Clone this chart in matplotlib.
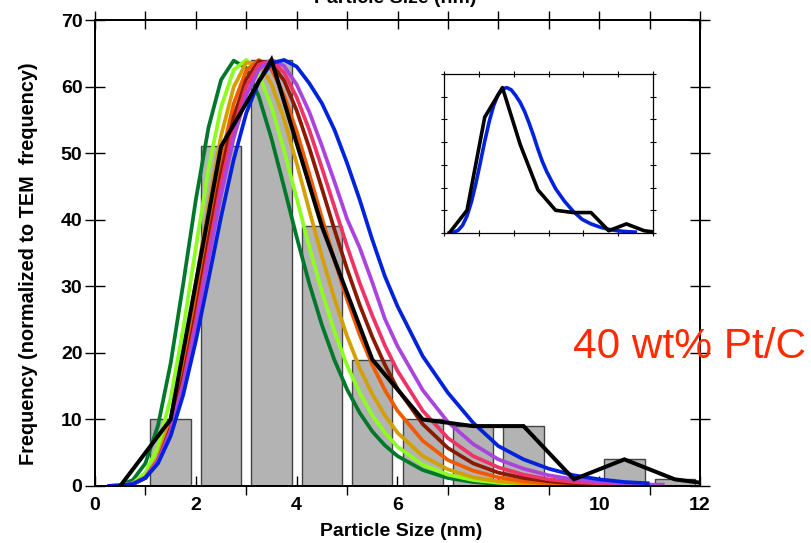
import numpy as np
import matplotlib
matplotlib.use("Agg")
import matplotlib.pyplot as plt
from matplotlib.ticker import MultipleLocator

plt.rcParams['font.family'] = ['Liberation Sans', 'DejaVu Sans']

# Histogram (TEM) data
bar_x = [0.5, 1.5, 2.5, 3.5, 4.5, 5.5, 6.5, 7.5, 8.5, 9.5, 10.5, 11.5]
bar_h = [0, 10, 51, 64, 39, 19, 10, 9, 9, 1, 4, 1]
# TEM frequency polygon
tem_x = [0.5, 1.5, 2.5, 3.5, 4.5, 5.5, 6.5, 7.5, 8.5, 9.5, 10.5, 11.5, 12.0]
tem_y = [0, 10, 51, 64, 39, 19, 10, 9, 9, 1, 4, 1, 0.5]

# common particle-size grid for the fitted distributions (nm)
size_grid = [0.25, 0.5, 0.75, 1.0, 1.25, 1.5, 1.75, 2.0, 2.25, 2.5, 2.75, 3.0,
             3.25, 3.5, 3.75, 4.0, 4.25, 4.5, 4.75, 5.0, 5.25, 5.5, 5.75, 6.0,
             6.5, 7.0, 7.5, 8.0, 8.5, 9.0, 9.5, 10.0, 10.5, 11.0, 11.3]

green = [0, 0.1, 0.9, 3.4, 9.1, 18.4, 30.4, 43, 53.8, 61, 63.9, 62.8, 58.5, 52.2, 44.9, 37.4,
         30.4, 24.2, 18.9, 14.5, 11, 8.2, 6.1, 4.5, 2.4, 1.2, 0.6, 0.3, 0.2, 0.1]
chartreuse = [0, 0.1, 0.4, 2, 5.9, 13.2, 23.6, 35.8, 47.6, 56.9, 62.5, 64, 61.8, 57, 50.4, 43.2,
              35.9, 29.2, 23.2, 18.1, 14, 10.6, 8, 5.9, 3.2, 1.7, 0.9, 0.5, 0.2, 0.1, 0.1]
gold = [0, 0, 0.3, 1.3, 4.3, 10.1, 19.1, 30.4, 42.2, 52.6, 59.9, 63.6, 63.5, 60.4, 55.1, 48.5,
        41.4, 34.5, 28.1, 22.5, 17.7, 13.8, 10.6, 8, 4.5, 2.5, 1.3, 0.7, 0.4, 0.2, 0.1]
orange = [0, 0, 0.3, 1.2, 3.8, 9, 17.1, 27.5, 38.8, 49.2, 57.4, 62.4, 64, 62.6, 58.7, 53.3,
          46.9, 40.3, 33.9, 28, 22.7, 18.2, 14.4, 11.3, 6.8, 3.9, 2.3, 1.3, 0.7, 0.4, 0.2, 0.1]
darkred = [0, 0, 0.3, 1.3, 3.8, 8.7, 16.3, 26, 36.8, 47, 55.4, 61.1, 63.8, 63.5, 60.9, 56.4,
           50.8, 44.7, 38.5, 32.6, 27.2, 22.4, 18.2, 14.6, 9.3, 5.7, 3.4, 2, 1.2, 0.7, 0.4, 0.2]
crimson = [0, 0, 0.3, 1.2, 3.6, 8.3, 15.5, 24.8, 35.2, 45.3, 53.8, 60, 63.3, 63.9, 62.1, 58.4,
           53.5, 47.8, 41.9, 36, 30.5, 25.6, 21.1, 17.3, 11.3, 7.2, 4.5, 2.8, 1.7, 1, 0.6, 0.4, 0.2]
purple = [0, 0.1, 0.3, 1.3, 3.8, 8.3, 15.2, 24.1, 34, 43.7, 52.2, 58.7, 62.6, 64, 63.1, 60.3,
          56.2, 51.1, 45.7, 40.1, 35.8, 30.6, 25.1, 21, 14.4, 9.6, 6.3, 4, 2.6, 1.6, 1, 0.6, 0.4, 0.2, 0.2]
blue = [0, 0.1, 0.3, 1.2, 3.4, 7.5, 13.7, 21.8, 31, 40.4, 49, 56, 60.8, 63.5, 64, 63,
        60.5, 57.5, 53.5, 48.5, 43, 37, 31.5, 27, 19.5, 14, 9.5, 6, 4, 2.6, 1.6, 1, 0.6, 0.4]

curves = [green, chartreuse, gold, orange, darkred, crimson, purple, blue]
colors = ['#00782a', '#8cff1e', '#d4a000', '#f05a00', '#8b1a00', '#ee3366', '#aa44dd', '#0022dd']

fig = plt.figure(figsize=(8.12, 5.43), dpi=100)
ax = fig.add_axes([95 / 812, 1 - 486 / 543, 605 / 812, 466 / 543])
ax.bar(bar_x, bar_h, width=0.8, color='#b3b3b3', edgecolor='#444444', linewidth=1.0, zorder=1)
for c, v in zip(colors, curves):
    ax.plot(size_grid[:len(v)], v, color=c, lw=2.7, zorder=2,
            solid_capstyle='butt', solid_joinstyle='round')
ax.plot(tem_x, tem_y, color='black', lw=2.9, zorder=3, solid_joinstyle='miter')
ax.set_xlim(0, 12)
ax.set_ylim(0, 70)
for sp in ax.spines.values():
    sp.set_linewidth(1.1)
ax.xaxis.set_major_locator(MultipleLocator(2))
ax.xaxis.set_minor_locator(MultipleLocator(1))
ax.yaxis.set_major_locator(MultipleLocator(10))
ax.tick_params(axis='x', which='major', direction='in', length=7, width=1.0, labelsize=14, pad=8)
ax.tick_params(axis='x', which='minor', direction='out', length=6.5, width=1.0)
ax.tick_params(axis='y', which='major', direction='inout', length=14, width=1.0, labelsize=14, pad=2)
for lab in ax.get_xticklabels() + ax.get_yticklabels():
    lab.set_fontweight('bold')

axt = ax.twiny()
axt.set_xlim(0, 12)
axt.xaxis.set_major_locator(MultipleLocator(1))
axt.tick_params(axis='x', direction='inout', length=13, width=1.0, labeltop=False)
axr = ax.twinx()
axr.set_ylim(0, 70)
axr.yaxis.set_major_locator(MultipleLocator(10))
axr.tick_params(axis='y', direction='inout', length=14, width=1.0, labelright=False)
for a in (axt, axr):
    for sp in a.spines.values():
        sp.set_linewidth(1.1)

fig.text(401 / 812, 1 - 531 / 543, 'Particle Size (nm)', ha='center', va='center',
         fontsize=14, fontweight='bold')
fig.text(29 / 812, 1 - 264 / 543, 'Frequency (normalized to TEM  frequency)', rotation=90,
         ha='center', va='center', fontsize=14.3, fontweight='bold')
fig.text(395 / 812, 1 - 3 / 543, 'Particle Size (nm)', ha='center', va='baseline',
         fontsize=14, fontweight='bold')
fig.text(573 / 812, 1 - 358 / 543, '40 wt% Pt/C', ha='left', va='baseline', fontsize=30.5,
         color='#ff2a00')

axi = fig.add_axes([444 / 812, 1 - 233 / 543, 209 / 812, 159 / 543])
axi.plot(size_grid[1:len(blue)], blue[1:], color='#0022dd', lw=2.6, solid_joinstyle='round')
axi.plot(tem_x, tem_y, color='black', lw=2.6)
axi.set_xlim(0.2, 12)
axi.set_ylim(0, 70)
axi.set_xticks(np.linspace(0.2, 12, 7))
axi.set_yticks(np.arange(0, 71, 10))
axi.tick_params(which='both', direction='inout', length=4, width=0.8, top=True, right=True,
                labelbottom=False, labelleft=False)
for sp in axi.spines.values():
    sp.set_linewidth(0.9)

fig.savefig('out.png', dpi=100)
